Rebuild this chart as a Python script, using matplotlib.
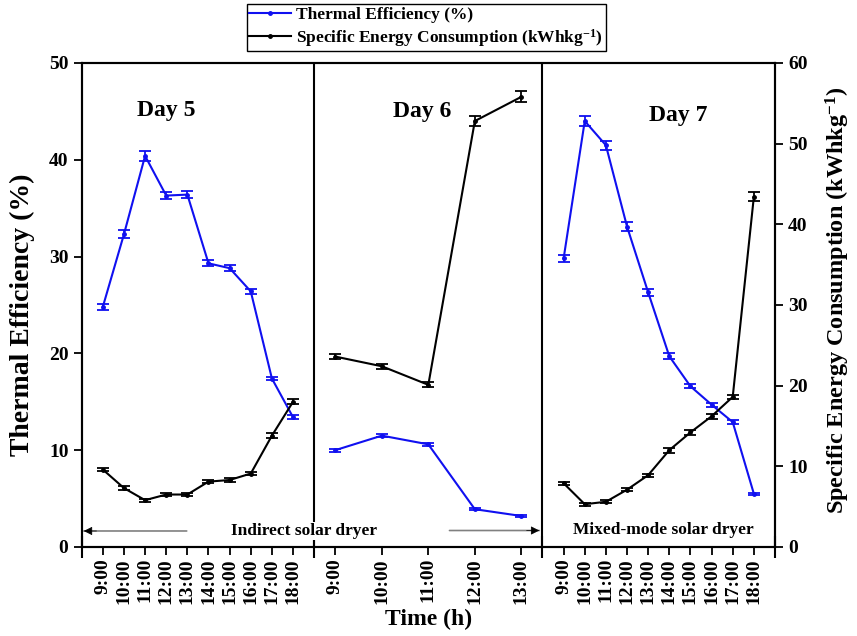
import matplotlib
matplotlib.use("Agg")
import matplotlib.pyplot as plt
import numpy as np
from matplotlib.lines import Line2D

plt.rcParams['font.family'] = ['Liberation Serif', 'DejaVu Serif']
plt.rcParams['font.weight'] = 'bold'
plt.rcParams['mathtext.fontset'] = 'custom'
plt.rcParams['mathtext.rm'] = 'Liberation Serif:bold'
plt.rcParams['mathtext.default'] = 'rm'

# ---- data ----
hours_d5 = ["9:00", "10:00", "11:00", "12:00", "13:00", "14:00", "15:00", "16:00", "17:00", "18:00"]
hours_d6 = ["9:00", "10:00", "11:00", "12:00", "13:00"]
hours_d7 = ["9:00", "10:00", "11:00", "12:00", "13:00", "14:00", "15:00", "16:00", "17:00", "18:00"]

te_d5 = [24.8, 32.3, 40.4, 36.3, 36.4, 29.3, 28.8, 26.4, 17.4, 13.4]
te_d5_err = [0.3, 0.4, 0.5, 0.4, 0.4, 0.3, 0.3, 0.3, 0.2, 0.2]
sec_d5 = [9.6, 7.3, 5.8, 6.5, 6.5, 8.1, 8.3, 9.1, 13.8, 18.0]
sec_d5_err = [0.2, 0.2, 0.2, 0.2, 0.2, 0.2, 0.2, 0.2, 0.3, 0.3]

te_d6 = [10.0, 11.5, 10.6, 3.9, 3.2]
te_d6_err = [0.15, 0.15, 0.15, 0.1, 0.1]
sec_d6 = [23.6, 22.4, 20.1, 52.8, 55.8]
sec_d6_err = [0.3, 0.3, 0.3, 0.6, 0.7]

te_d7 = [29.8, 44.0, 41.5, 33.1, 26.3, 19.7, 16.6, 14.7, 12.9, 5.5]
te_d7_err = [0.35, 0.55, 0.45, 0.45, 0.35, 0.3, 0.2, 0.2, 0.2, 0.1]
sec_d7 = [7.9, 5.3, 5.6, 7.1, 8.9, 12.0, 14.2, 16.2, 18.6, 43.4]
sec_d7_err = [0.2, 0.2, 0.2, 0.2, 0.2, 0.3, 0.3, 0.3, 0.3, 0.55]

day_titles = ["Day 5", "Day 6", "Day 7"]

# ---- category positions (layout) ----
x5 = np.arange(len(hours_d5)) * 1.0
x6 = 11.0 + np.arange(len(hours_d6)) * 2.2
x7 = 21.8 + np.arange(len(hours_d7)) * 1.0
div1, div2 = 10.0, 20.8
xmin, xmax = -1.0, 31.8

fig = plt.figure(figsize=(8.57, 6.36), dpi=100)
ax = fig.add_axes([0.0953, 0.14, 0.809, 0.761])
ax2 = ax.twinx()

blue = '#1010f0'
ekw = dict(capsize=4, elinewidth=1.3, capthick=1.3, lw=1.5, marker='o', ms=2.5)
for xs, ys, es in [(x5, te_d5, te_d5_err), (x6, te_d6, te_d6_err), (x7, te_d7, te_d7_err)]:
    ax.errorbar(xs, ys, yerr=es, color=blue, **ekw)
for xs, ys, es in [(x5, sec_d5, sec_d5_err), (x6, sec_d6, sec_d6_err), (x7, sec_d7, sec_d7_err)]:
    ax2.errorbar(xs, ys, yerr=es, color='black', **ekw)

ax.set_xlim(xmin, xmax)
ax.set_ylim(0, 50)
ax2.set_ylim(0, 60)
ax.set_yticks(np.arange(0, 51, 10))
ax2.set_yticks(np.arange(0, 61, 10))

xpos = np.concatenate([x5, x6, x7])
xlabels = hours_d5 + hours_d6 + hours_d7
ax.set_xticks(xpos)
ax.set_xticklabels(xlabels, rotation=90, fontsize=14, fontweight='bold')
ax.set_xticks([xmin, div1, div2, xmax], minor=True)
ax.tick_params(axis='x', which='major', direction='out', length=6, width=1.3, pad=2)
ax.tick_params(axis='x', which='minor', direction='inout', length=16, width=1.5)
ax.tick_params(axis='y', direction='out', length=6, width=1.3, labelsize=14)
ax2.tick_params(axis='y', direction='out', length=6, width=1.3, labelsize=14)
for a in (ax, ax2):
    for lab in a.get_yticklabels():
        lab.set_fontweight('bold')
    for s in a.spines.values():
        s.set_linewidth(1.5)

for d in (div1, div2):
    ax.axvline(d, color='black', lw=1.5, zorder=1)

ax.set_xlabel("Time (h)", fontsize=17, fontweight='bold', labelpad=4)
ax.set_ylabel("Thermal Efficiency (%)", fontsize=20, fontweight='bold')
ax.yaxis.set_label_coords(-0.067, 0.48)
ax2.set_ylabel("Specific Energy Consumption (kWhkg$^{-1}$)", fontsize=17.5, fontweight='bold')
ax2.yaxis.set_label_coords(1.07, 0.51)

# day titles
for tx, ty, t in [(3.0, 45.1, day_titles[0]), (15.1, 45.0, day_titles[1]), (27.2, 44.6, day_titles[2])]:
    ax.text(tx, ty, t, fontsize=17, fontweight='bold', ha='center', va='center')

# dryer annotations
ax.text(9.5, 1.65, "Indirect solar dryer", fontsize=12.5, fontweight='bold', ha='center', va='center',
        bbox=dict(facecolor='white', edgecolor='none', pad=1), zorder=3)
ax.text(26.5, 1.75, "Mixed-mode solar dryer", fontsize=12.5, fontweight='bold', ha='center', va='center', zorder=3)
for (x0, x1, yy) in [(3.97, -0.9, 1.65), (16.4, 20.65, 1.7)]:
    ax.annotate("", xy=(x1, yy), xytext=(x0, yy),
                arrowprops=dict(arrowstyle='-', color='#808080', lw=1.2, shrinkA=0, shrinkB=0))
    ax.annotate("", xy=(x1, yy), xytext=(x1 + (0.6 if x1 < x0 else -0.6), yy),
                arrowprops=dict(arrowstyle='-|>', color='black', lw=0.5, mutation_scale=13,
                                shrinkA=0, shrinkB=0))

# legend
handles = [Line2D([], [], color=blue, lw=1.5, marker='o', ms=2.5),
           Line2D([], [], color='black', lw=1.5, marker='o', ms=2.5)]
labels = ["Thermal Efficiency (%)", "Specific Energy Consumption (kWhkg$^{-1}$)"]
leg = fig.legend(handles, labels, loc='upper left', bbox_to_anchor=(0.288, 0.993),
                 prop=dict(family='Liberation Serif', weight='bold', size=12.5),
                 frameon=True, fancybox=False, edgecolor='black', framealpha=1,
                 borderpad=0.15, handlelength=2.4, handletextpad=0.3, labelspacing=0.2,
                 borderaxespad=0)
leg.get_frame().set_linewidth(1.0)

fig.savefig("out.png", dpi=100)
